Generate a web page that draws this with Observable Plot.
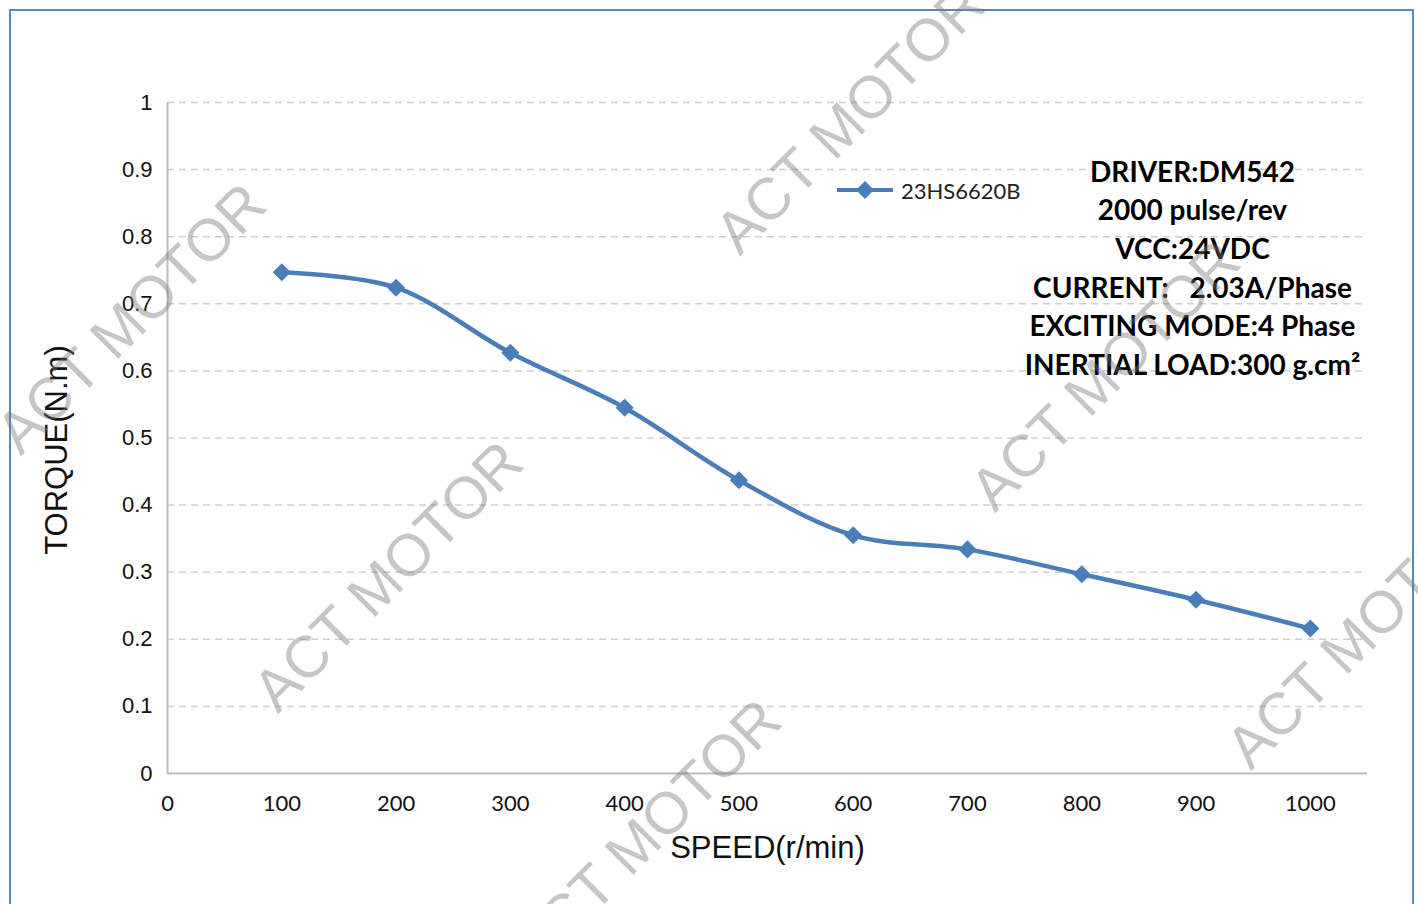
<!DOCTYPE html>
<html><head><meta charset="utf-8">
<script src="https://cdn.jsdelivr.net/npm/d3@7"></script>
<script src="https://cdn.jsdelivr.net/npm/@observablehq/plot@0.6"></script>
<style>
body{margin:0;overflow:hidden;background:#fff;}
#wrap{position:relative;width:1418px;height:904px;overflow:hidden;background:#fff;}
#frame{position:absolute;left:9px;top:9px;width:1405px;height:930px;border:2px solid #5b88c4;box-sizing:border-box;pointer-events:none;}
#chart{position:absolute;left:0;top:0;}
#legend{position:absolute;left:836px;top:176px;display:flex;align-items:center;font-family:Lato,"Open Sans",sans-serif;font-size:22px;color:#222;}
.wm{position:absolute;font-family:"Liberation Sans",Arial,sans-serif;font-size:59px;color:rgba(120,120,120,0.42);white-space:nowrap;transform:translate(-50%,-50%) rotate(-45deg);pointer-events:none;}
</style>
</head><body>
<div id="wrap">
  <div id="chart"></div>
  <div id="legend"></div>
  <div id="frame"></div>
</div>
<script>
// ---- data ----
const speed = [100, 200, 300, 400, 500, 600, 700, 800, 900, 1000];
const torque = [0.747, 0.724, 0.627, 0.545, 0.437, 0.355, 0.334, 0.297, 0.259, 0.216];
const xTicks = [0, 100, 200, 300, 400, 500, 600, 700, 800, 900, 1000];
const yTicks = [0, 0.1, 0.2, 0.3, 0.4, 0.5, 0.6, 0.7, 0.8, 0.9, 1];
const yTickLabels = ["0", "0.1", "0.2", "0.3", "0.4", "0.5", "0.6", "0.7", "0.8", "0.9", "1"];
const seriesName = "23HS6620B";
const notes = ["DRIVER:DM542", "2000 pulse/rev", "VCC:24VDC", "CURRENT:\u2002 2.03A/Phase", "EXCITING MODE:4 Phase", "INERTIAL LOAD:300 g.cm\u00B2"];
const xTitle = "SPEED(r/min)";
const yTitle = "TORQUE(N.m)";
const watermark = "ACT MOTOR";

const rows = speed.map((s, i) => ({speed: s, torque: torque[i]}));
const blue = "#4a7ebb";

const chart = Plot.plot({
  width: 1418,
  height: 904,
  marginLeft: 167,
  marginRight: 51,
  marginTop: 102,
  marginBottom: 131,
  x: {domain: [0, 1050], axis: null},
  y: {domain: [0, 1], axis: null},
  style: {background: "transparent"},
  marks: [
    Plot.gridY(yTicks.filter(d => d > 0), {stroke: "#cfcfcf", strokeOpacity: 1, strokeWidth: 1.5, strokeDasharray: "7,5"}),
    Plot.ruleX([0], {stroke: "#bdbdbd", strokeWidth: 2}),
    Plot.ruleY([0], {stroke: "#bdbdbd", strokeWidth: 2}),
    Plot.text(xTicks, {x: d => d, y: 0, dy: 30, text: d => String(d), fontFamily: "Lato, 'Open Sans', sans-serif", fontSize: 22, fill: "#111"}),
    Plot.text(yTicks, {x: 0, y: d => d, dx: -15, textAnchor: "end", text: (d, i) => yTickLabels[i], fontFamily: "'Liberation Sans', Arial, sans-serif", fontSize: 22, fill: "#111"}),
    Plot.line(rows, {x: "speed", y: "torque", stroke: blue, strokeWidth: 4.5, curve: "catmull-rom"}),
    Plot.dot(rows, {x: "speed", y: "torque", symbol: "diamond2", r: 7.2, fill: blue, stroke: blue}),
    Plot.text([xTitle], {frameAnchor: "bottom", dy: 75, lineAnchor: "middle", text: d => d, fontFamily: "'Liberation Sans', Arial, sans-serif", fontSize: 31, fill: "#111"}),
    Plot.text([yTitle], {frameAnchor: "left", dx: -110, dy: 12, rotate: -90, textAnchor: "middle", lineAnchor: "middle", text: d => d, fontFamily: "'Liberation Sans', Arial, sans-serif", fontSize: 31, fill: "#111"}),
    Plot.text([notes.join("\n")], {frameAnchor: "top-right", dx: -175, dy: 163.5, textAnchor: "middle", lineAnchor: "middle", lineHeight: 1.379, text: d => d, fontFamily: "Lato, 'Open Sans', sans-serif", fontWeight: "bold", fontSize: 28, fill: "#000"})
  ]
});
document.getElementById("chart").appendChild(chart);

// legend
const leg = document.getElementById("legend");
leg.innerHTML = `<svg width="58" height="28"><line x1="1" y1="14" x2="57" y2="14" stroke="${blue}" stroke-width="4"/><path d="M29 5 L38 14 L29 23 L20 14 Z" fill="${blue}"/></svg><span style="margin-left:7px">${seriesName}</span>`;

// watermarks (decoration)
const wmCenters = [[131, 318], [388, 576], [850, 118], [1105, 375], [646, 834], [1361, 633]];
const wrap = document.getElementById("wrap");
wmCenters.forEach(([l, t]) => {
  const d = document.createElement("div");
  d.className = "wm";
  d.style.left = l + "px";
  d.style.top = t + "px";
  d.textContent = watermark;
  wrap.appendChild(d);
});
</script>
</body></html>
